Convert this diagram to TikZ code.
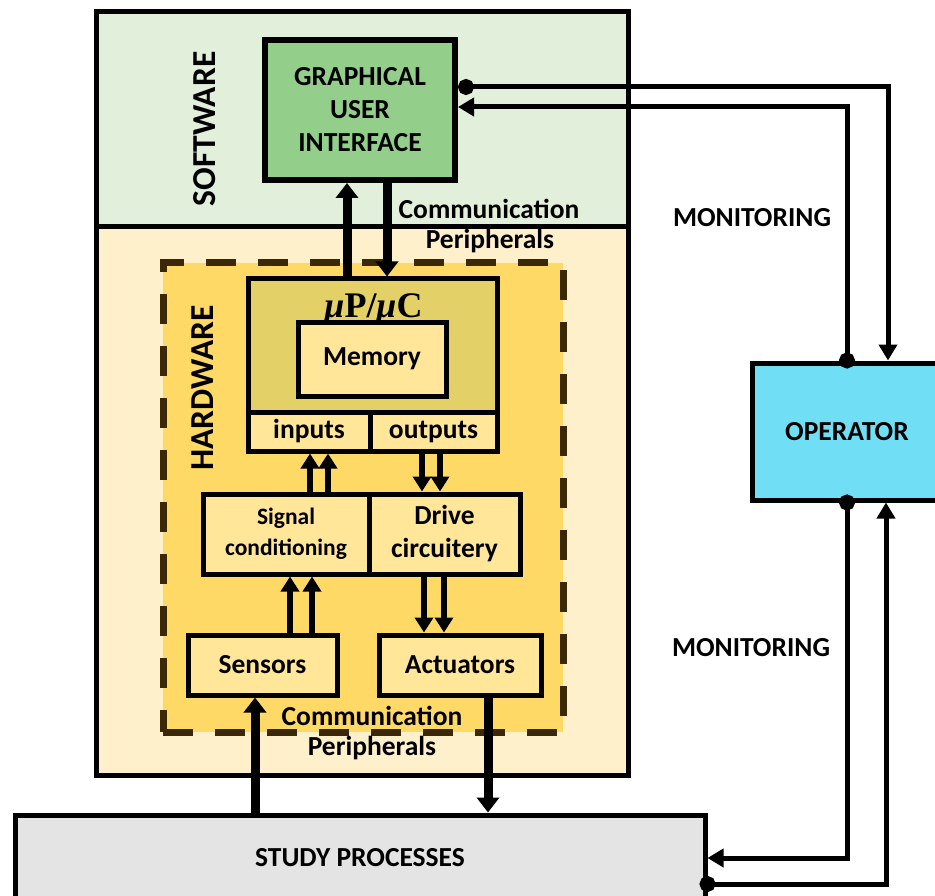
\documentclass[tikz,border=0pt]{standalone}
\usepackage{fontspec}
\setmainfont{Carlito}
\newfontfamily\mufont{Liberation Serif}
\usetikzlibrary{arrows.meta}
\definecolor{swbg}{HTML}{E2EFDA}
\definecolor{hwbg}{HTML}{FFF0CC}
\definecolor{hwcore}{HTML}{FFD966}
\definecolor{mubg}{HTML}{E3D066}
\definecolor{lightbox}{HTML}{FFE699}
\definecolor{guibg}{HTML}{93CF8B}
\definecolor{opbg}{HTML}{70DFF5}
\definecolor{stbg}{HTML}{E4E4E4}
\definecolor{dashbrown}{HTML}{3A2806}
\begin{document}
\begin{tikzpicture}[x=1pt,y=-1pt,
  box/.style={draw=black, line width=5pt, inner sep=0pt, align=center,
    font=\fontsize{27.5}{33}\selectfont\bfseries},
  lbl/.style={inner sep=0pt, align=center, font=\fontsize{27.5}{33}\selectfont\bfseries},
  sidelbl/.style={inner sep=0pt, rotate=90, font=\fontsize{33.5}{33.5}\selectfont\bfseries},
  big/.style={line width=9pt, -{Triangle[length=15pt,width=22pt]}},
  small/.style={line width=6pt, -{Triangle[length=15pt,width=18pt]}},
  mon/.style={line width=5pt},
  dotstart/.style={{Circle[length=16pt]}-{Triangle[length=16pt,width=18pt]}},
  dotcentre/.style={{Circle[length=16pt]}-{Triangle[length=16pt,width=18pt]}, shorten <=-8pt}]
\useasboundingbox (0,0) rectangle (935,896);

% software / hardware frames
\node[box, fill=swbg, minimum width=532, minimum height=215] (sw) at (362,119.5) {};
\node[box, fill=hwbg, minimum width=532, minimum height=548] (hw) at (362,501) {};
\node[sidelbl] (swl) at (205,129) {SOFTWARE};

% hardware core (dashed)
\node[draw=dashbrown, fill=hwcore, line width=7pt, dash pattern=on 30pt off 22pt,
  inner sep=0pt, minimum width=400, minimum height=469] (core) at (363,497.5) {};
\node[sidelbl] (hwl) at (203,388) {HARDWARE};

% GUI
\node[box, fill=guibg, line width=6pt, minimum width=190, minimum height=140] (gui) at (360,110)
  {GRAPHICAL\\USER\\INTERFACE};

% microprocessor block
\node[box, fill=mubg, minimum width=249, minimum height=172] (mu) at (372.5,365) {};
\node[inner sep=0pt, anchor=base, font=\mufont\fontsize{36}{36}\selectfont\bfseries] (mul) at (373.5,317)
  {{\itshape μ}P/{\itshape μ}C};
\node[box, fill=lightbox, minimum width=148, minimum height=74] (mem) at (372,359) {Memory};
\node[box, fill=lightbox, minimum width=122, minimum height=39] (in) at (309,431.5) {inputs};
\node[box, fill=lightbox, minimum width=127, minimum height=39] (out) at (433.5,431.5) {outputs};

% interface circuits
\node[box, fill=lightbox, minimum width=166, minimum height=80,
  font=\fontsize{23.5}{31}\selectfont\bfseries] (sig) at (286,534) {Signal\\conditioning};
\node[box, fill=lightbox, minimum width=151, minimum height=80] (drv) at (444.5,534) {Drive\\circuitery};
\node[box, fill=lightbox, minimum width=149, minimum height=60] (sens) at (262.5,665) {Sensors};
\node[box, fill=lightbox, minimum width=162, minimum height=60] (act) at (460,665) {Actuators};

% study processes and operator
\node[box, fill=stbg, minimum width=690, minimum height=86] (st) at (360,858) {STUDY PROCESSES};
\node[box, fill=opbg, minimum width=190, minimum height=137] (op) at (847,431.5) {OPERATOR};

% labels
\node[lbl] (cp1) at (489,209) {Communication};
\node[lbl] (cp2) at (490,241) {Peripherals};
\node[lbl] (cp3) at (372,716) {Communication};
\node[lbl] (cp4) at (372,748) {Peripherals};
\node[lbl] (mon1) at (752,218) {MONITORING};
\node[lbl] (mon2) at (751,648) {MONITORING};

% GUI <-> microprocessor
\draw[big] ([xshift=-25.5pt]mu.north) -- ([xshift=-25.5pt]mu.north |- gui.south);
\draw[big] ([xshift=27pt]gui.south) -- ([xshift=27pt]gui.south |- mu.north);

% internal signal paths
\draw[small] ([xshift=24pt]sig.north) -- ([xshift=24pt]sig.north |- in.south);
\draw[small] ([xshift=42pt]sig.north) -- ([xshift=42pt]sig.north |- in.south);
\draw[small] ([xshift=-11.5pt]out.south) -- ([xshift=-11.5pt]out.south |- drv.north);
\draw[small] ([xshift=6.5pt]out.south) -- ([xshift=6.5pt]out.south |- drv.north);
\draw[small] ([xshift=27.5pt]sens.north) -- ([xshift=27.5pt]sens.north |- sig.south);
\draw[small] ([xshift=49.5pt]sens.north) -- ([xshift=49.5pt]sens.north |- sig.south);
\draw[small] ([xshift=-20.5pt]drv.south) -- ([xshift=-20.5pt]drv.south |- act.north);
\draw[small] ([xshift=-0.5pt]drv.south) -- ([xshift=-0.5pt]drv.south |- act.north);

% process <-> sensors / actuators
\draw[big] ([xshift=-7.5pt]sens.south |- st.north) -- ([xshift=-7.5pt]sens.south);
\draw[big] ([xshift=28pt]act.south) -- ([xshift=28pt]act.south |- st.north);

% monitoring loops
\draw[mon, dotstart] ([yshift=23pt]gui.east) -| ([xshift=41pt]op.north);
\draw[mon, dotcentre] (op.north) |- ([yshift=3pt]gui.east);
\draw[mon, dotcentre] (op.south) |- (st.east);
\draw[mon, dotcentre] ([yshift=-26pt]st.east) -| ([xshift=39pt]op.south);
\end{tikzpicture}
\end{document}
